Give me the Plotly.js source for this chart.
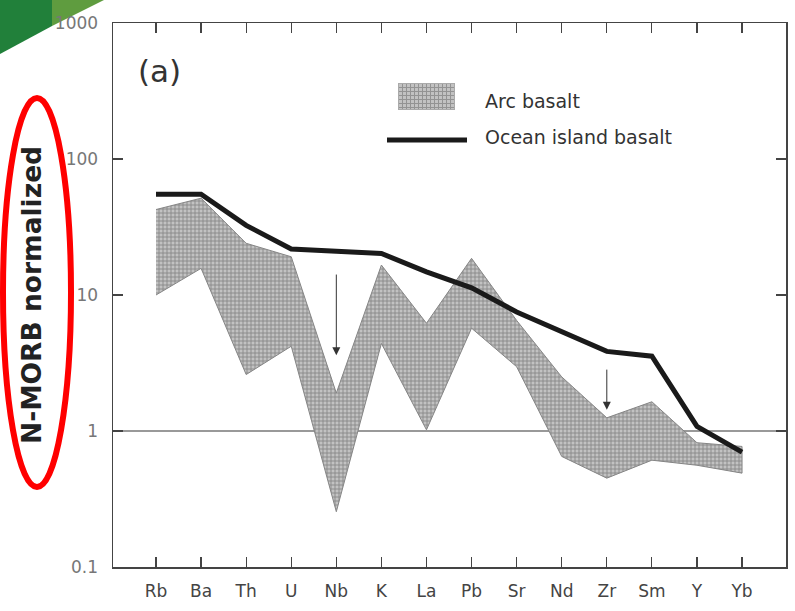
<!DOCTYPE html>
<html>
<head>
<meta charset="utf-8">
<script src="https://cdn.plot.ly/plotly-3.0.1.min.js"></script>
<style>html,body{margin:0;padding:0;background:#fff;}#chart{width:795px;height:611px;}</style>
</head>
<body>
<div id="chart"></div>
<script>
// ---- data ----
const elements = ["Rb","Ba","Th","U","Nb","K","La","Pb","Sr","Nd","Zr","Sm","Y","Yb"];
const oib      = [55, 55, 32.5, 21.8, 21, 20.2, 14.8, 11.3, 7.5, 5.4, 3.85, 3.55, 1.08, 0.70];
const arcUpper = [42.5, 51.5, 24, 19.1, 1.9, 16.6, 6.2, 18.6, 6.5, 2.5, 1.25, 1.64, 0.82, 0.77];
const arcLower = [10, 15.7, 2.6, 4.2, 0.255, 4.4, 1.02, 5.7, 2.97, 0.65, 0.45, 0.61, 0.56, 0.49];
const refLevel = 1;
const arrowEls   = ["Nb", "Zr"];
const arrowFrom  = [14.5, 2.9];
const arrowTo    = [3.6, 1.43];
const yTickVals  = [0.1, 1, 10, 100, 1000];
const yTickText  = ["0.1", "1", "10", "100", "1000"];

// ---- layout helpers (pixel -> paper) ----
const L = 113, R = 786, T = 23, B = 567;
const W = 795, H = 611;
const px = x => (x - L) / (R - L);
const py = y => (B - y) / (B - T);

const idx = elements.map((_, i) => i);

const band = {
  x: idx.concat(idx.slice().reverse()),
  y: arcUpper.concat(arcLower.slice().reverse()),
  type: "scatter", mode: "lines", fill: "toself",
  fillcolor: "#bdbdbd",
  fillpattern: {shape: "+", size: 4, solidity: 0.4, fgcolor: "#878787", bgcolor: "#c2c2c2"},
  line: {color: "#858585", width: 1},
  hoverinfo: "skip", showlegend: false
};
const oibLine = {
  x: idx, y: oib, type: "scatter", mode: "lines",
  line: {color: "#1a1a1a", width: 5},
  showlegend: false
};

const patternSvg = "<svg xmlns='http://www.w3.org/2000/svg' width='57' height='27'><defs><pattern id='p' width='4' height='4' patternUnits='userSpaceOnUse'><rect width='4' height='4' fill='#c2c2c2'/><path d='M0 0.5H4M0.5 0V4' stroke='#939393' stroke-width='1'/></pattern></defs><rect x='0.5' y='0.5' width='56' height='26' fill='url(#p)' stroke='#aaa'/></svg>";

const annotations = [
  {xref: "paper", yref: "paper", x: px(159), y: py(71), xanchor: "center", yanchor: "middle", text: "(a)", showarrow: false,
   font: {family: "DejaVu Sans ExtraLight, DejaVu Sans", size: 31, color: "#333"}},
  {xref: "paper", yref: "paper", x: px(483), y: py(101), xanchor: "left", yanchor: "middle", text: "Arc basalt", showarrow: false,
   font: {family: "DejaVu Sans", size: 19, color: "#333"}},
  {xref: "paper", yref: "paper", x: px(483), y: py(137), xanchor: "left", yanchor: "middle", text: "Ocean island basalt", showarrow: false,
   font: {family: "DejaVu Sans", size: 19, color: "#333"}},
  {xref: "paper", yref: "paper", x: px(31), y: py(295), xanchor: "center", yanchor: "middle", text: "<b>N-MORB normalized</b>", textangle: -90, showarrow: false,
   font: {family: "DejaVu Sans", size: 26.5, color: "#222"}}
];
arrowEls.forEach((el, k) => {
  const i = elements.indexOf(el);
  annotations.push({
    x: i, y: Math.log10(arrowTo[k]), ax: i, ay: Math.log10(arrowFrom[k]),
    xref: "x", yref: "y", axref: "x", ayref: "y",
    showarrow: true, arrowhead: 2, arrowsize: 1.6, arrowwidth: 1, arrowcolor: "#333", text: ""
  });
});

const layout = {
  width: W, height: H,
  margin: {l: L, r: W - R, t: T, b: H - B, pad: 0},
  paper_bgcolor: "#fff", plot_bgcolor: "#fff",
  showlegend: false,
  font: {family: "DejaVu Sans", color: "#444"},
  xaxis: {
    range: [(L - 156) / 45.08, (R - 156) / 45.08],
    tickmode: "array", tickvals: idx, ticktext: elements,
    ticks: "inside", ticklen: 10, tickwidth: 1.2, tickcolor: "#444",
    showline: true, linecolor: "#444", linewidth: 1.5, mirror: "ticks",
    showgrid: false, zeroline: false,
    tickfont: {family: "DejaVu Sans", size: 17, color: "#444"},
    ticklabelstandoff: 8
  },
  yaxis: {
    type: "log", range: [-1, 3],
    tickmode: "array", tickvals: yTickVals, ticktext: yTickText,
    ticks: "inside", ticklen: 10, tickwidth: 1.2, tickcolor: "#444",
    showline: true, linecolor: "#444", linewidth: 1.5, mirror: "ticks",
    showgrid: false, zeroline: false,
    tickfont: {family: "DejaVu Sans", size: 17, color: "#777"},
    ticklabelstandoff: 10
  },
  shapes: [
    // decorative green corner
    {type: "path", xref: "paper", yref: "paper", layer: "below",
     path: `M ${px(0)},${py(0)} L ${px(52)},${py(0)} L ${px(52)},${py(26)} L ${px(0)},${py(54)} Z`,
     fillcolor: "#21803a", line: {width: 0}},
    {type: "path", xref: "paper", yref: "paper", layer: "below",
     path: `M ${px(52)},${py(0)} L ${px(104)},${py(0)} L ${px(52)},${py(26)} Z`,
     fillcolor: "#5f9c3f", line: {width: 0}},
    // reference line at N-MORB = 1
    {type: "line", xref: "paper", yref: "y", x0: 0, x1: 1, y0: refLevel, y1: refLevel, layer: "below",
     line: {color: "#777", width: 1.5}},
    // legend line
    {type: "line", xref: "paper", yref: "paper", x0: px(387), x1: px(467), y0: py(140), y1: py(140),
     line: {color: "#1a1a1a", width: 5}},
    // red ellipse
    {type: "circle", xref: "paper", yref: "paper", x0: px(3), x1: px(71), y0: py(487), y1: py(98),
     line: {color: "#ff0000", width: 6}}
  ],
  images: [
    {source: "data:image/svg+xml;charset=utf-8," + encodeURIComponent(patternSvg),
     xref: "paper", yref: "paper", x: px(398), y: py(83), sizex: 57 / (R - L), sizey: 27 / (B - T),
     xanchor: "left", yanchor: "top", sizing: "stretch", layer: "above"}
  ],
  annotations: annotations
};

Plotly.newPlot("chart", [band, oibLine], layout, {displayModeBar: false, staticPlot: true});
</script>
</body>
</html>
